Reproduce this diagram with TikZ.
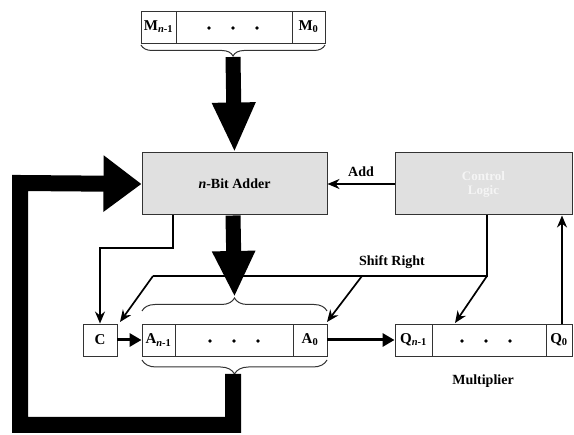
\documentclass[tikz,border=0pt]{standalone}
\usepackage{fontspec}
\setmainfont{Liberation Serif}
\usetikzlibrary{arrows.meta,decorations.pathreplacing}
\begin{document}
\begin{tikzpicture}[x=1pt,y=-1pt,
  reg/.style={draw=black!80,line width=0.9pt,inner sep=0pt,minimum height=32pt},
  cell/.style={draw=black!80,line width=0.9pt,inner sep=0pt,minimum height=32pt,font=\fontsize{15}{15}\selectfont\bfseries},
  unit/.style={draw=black!80,line width=1pt,fill=black!12,inner sep=0pt,minimum height=62pt},
  lbl/.style={font=\fontsize{14}{14}\selectfont\bfseries},
  thin/.style={line width=1.7pt,-{Stealth[length=12pt,width=10pt]}},
  fat/.style={line width=3pt,-{Triangle[length=12pt,width=13pt]}},
  big/.style={line width=15pt,line join=miter},
  brc/.style={draw=black!80,line width=1pt,decorate},
  dotc/.style={circle,fill=black,inner sep=0pt,minimum size=3.6pt}
]
\useasboundingbox (0,0) rectangle (574,435);
% M register
\node[reg,minimum width=184pt] (M) at (233,27) {};
\node[cell,minimum width=35pt] (Mn) at (158.5,27) {M\textsubscript{\textit{n}-1}};
\node[cell,minimum width=33pt] (M0) at (308.5,27) {M\textsubscript{0}};
\foreach \x/\n in {209/a,233/b,257/c} \node[dotc] (md\n) at (\x,28) {};
\draw[brc,decoration={brace,amplitude=11pt}] (325,45) -- (141,45) coordinate (mbs);
\coordinate (mtip) at (233,57);
% adder and control
\node[unit,minimum width=185pt] (add) at (234.5,184) {\fontsize{14}{14}\selectfont\bfseries\textit{n}-Bit Adder};
\node[unit,minimum width=177pt,align=center,text=black!4,font=\fontsize{13}{14}\selectfont\bfseries] (ctl) at (483.5,184) {Control\\Logic};
% thick arrow M -> adder
\draw[big,-{Triangle[length=50pt,width=40pt]}] (mtip) -- (add.north);
% add signal
\draw[thin] (ctl.west) -- node[lbl,above=3pt] (addl) {Add} (add.west -| add.east);
% C, A, Q registers
\node[cell,minimum width=34pt] (C) at (100,340) {C};
\node[reg,minimum width=185pt] (A) at (234.5,340) {};
\node[cell,minimum width=33pt] (An) at (158.5,340) {A\textsubscript{\textit{n}-1}};
\node[cell,minimum width=34pt] (A0) at (310,340) {A\textsubscript{0}};
\foreach \x/\n in {210/a,234/b,258/c} \node[dotc] (ad\n) at (\x,341) {};
\node[reg,minimum width=177pt] (Q) at (483.5,340) {};
\node[cell,minimum width=37pt] (Qn) at (413.5,340) {Q\textsubscript{\textit{n}-1}};
\node[cell,minimum width=26pt] (Q0) at (559,340) {Q\textsubscript{0}};
\foreach \x/\n in {462/a,486/b,510/c} \node[dotc] (qd\n) at (\x,341) {};
\node[lbl] (mul) at (483,381) {Multiplier};
% braces at A
\draw[brc,decoration={brace,amplitude=13pt}] (142,311) -- (327,311);
\coordinate (atop) at (234.5,297);
\draw[brc,decoration={brace,amplitude=14pt}] (327,360) -- (142,360);
\coordinate (abot) at (233,374);
% adder -> A
\draw[big,-{Triangle[length=46pt,width=40pt]}] (add.south -| 233,0) -- (atop);
% feedback loop
\coordinate (l1) at (233,425);
\coordinate (l2) at (20,425);
\coordinate (l3) at (20,183);
\draw[big,line width=16pt,-{Triangle[length=38pt,width=54pt]}] (abot) -- (l1) -- (l2) -- (l3) -- (add.west);
% carry path
\coordinate (c1) at (173,248);
\draw[thin] (add.south -| 173,0) -- (c1) -- (c1 -| C.north) -- (C.north);
% shift right
\coordinate (s1) at (487,276);
\coordinate (s2) at (153,276);
\coordinate (s3) at (362,276);
\coordinate (t1) at (120,322);
\coordinate (t2) at (327,322);
\coordinate (t3) at (455,323);
\draw[line width=1.7pt] (ctl.south -| s1) -- (s1) -- (s2);
\draw[thin] (s2) -- (t1);
\draw[thin] (s3) -- (t2);
\draw[thin] (s1) -- (t3);
\node[lbl] (shl) at (392,262) {Shift Right};
% Q0 -> control
\draw[thin] (Q0.north -| 562,0) -- (ctl.south -| 562,0);
% C -> A, A -> Q
\draw[fat] (C.east) -- (A.west);
\draw[fat] (A.east) -- (Q.west);
\end{tikzpicture}
\end{document}
